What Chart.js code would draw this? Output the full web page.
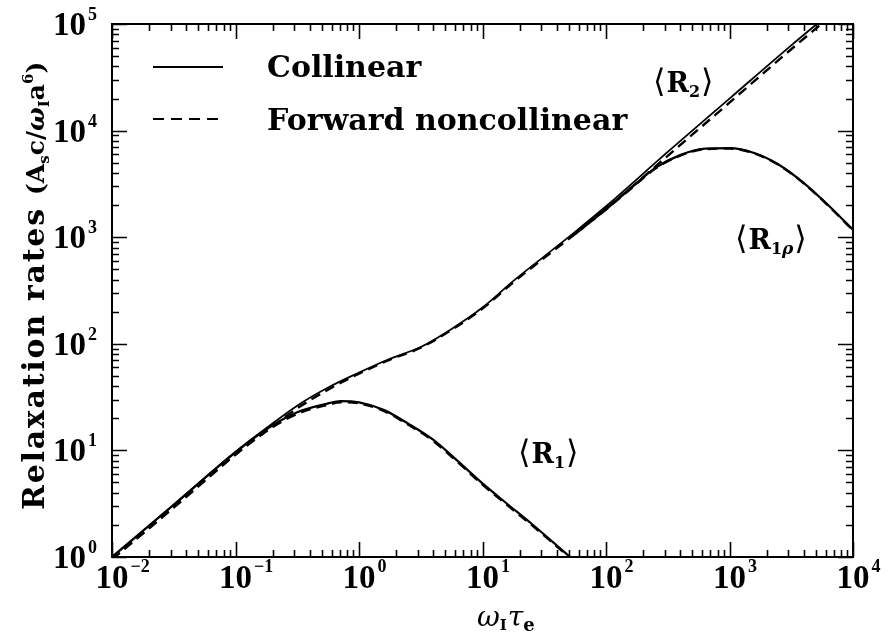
<!DOCTYPE html>
<html>
<head>
<meta charset="utf-8">
<script src="https://cdn.jsdelivr.net/npm/chart.js@4"></script>
<style>
  body { margin: 0; background: #fff; }
  #wrap { width: 888px; height: 636px; position: relative; }
</style>
</head>
<body>
<div id="wrap"><canvas id="myChart"></canvas></div>
<script>
// tick decades (exponents of 10)
const xExps = [-2, -1, 0, 1, 2, 3, 4];
const yExps = [0, 1, 2, 3, 4, 5];

// <R2> (upper branch)
const xUpper = [0.01, 0.0316, 0.1, 0.178, 0.316, 0.562, 1, 1.78, 3.16, 5.62, 10, 17.8, 31.6, 56.2, 100, 316, 1000, 3162, 6000];
const r2Col = [1, 3.09, 9.7, 16.2, 26.3, 38.9, 53.7, 72.4, 93.3, 138, 219, 389, 661, 1122, 1950, 6310, 19950, 63100, 117000];
const r2Fwd = [0.95, 2.9, 9.1, 15.2, 24.8, 37.2, 52.5, 71, 92, 135, 214, 378, 640, 1070, 1830, 5800, 18300, 58000, 108000];

// <R1>
const xR1 = [0.01, 0.0316, 0.1, 0.178, 0.316, 0.562, 0.708, 1, 1.58, 2.51, 3.98, 6.31, 10, 15.8, 25.1, 39.8, 55];
const r1Col = [1, 3.09, 9.6, 15.8, 22.8, 27.6, 29.0, 28.2, 24.0, 17.8, 12.6, 7.94, 4.9, 3.16, 2.04, 1.29, 0.93];
const r1Fwd = [0.96, 2.95, 9.2, 15.2, 22.0, 26.8, 28.3, 27.6, 23.5, 17.4, 12.3, 7.75, 4.78, 3.08, 1.99, 1.26, 0.91];

// <R1rho>
const xR1rho = [56.2, 100, 158, 251, 398, 631, 1000, 1585, 2512, 3981, 6310, 10000];
const r1rhoCol = [1096, 1862, 2884, 4467, 5888, 6761, 6839, 6166, 4786, 3236, 1995, 1175];
const r1rhoFwd = [1070, 1820, 2830, 4400, 5820, 6700, 6790, 6120, 4750, 3210, 1975, 1160];

const pts = (xs, ys) => xs.map((x, i) => ({ x: x, y: ys[i] }));
const solid = (xs, ys, w) => ({ data: pts(xs, ys), borderColor: '#000', borderWidth: w, pointRadius: 0, cubicInterpolationMode: 'monotone', clip: 0 });
const dashed = (xs, ys) => ({ data: pts(xs, ys), borderColor: '#000', borderWidth: 2.4, borderDash: [10, 6], pointRadius: 0, cubicInterpolationMode: 'monotone', clip: 0 });

const SERIF = '"DejaVu Serif", serif';
const NUM = '"Liberation Serif", serif';

// parts: [text, font, dy, letter spacing]
function drawRun(ctx, parts, x, y) {
  let cx = x;
  parts.forEach(([t, f, dy, sp]) => {
    ctx.font = f;
    for (const ch of t) {
      ctx.fillText(ch, cx, y + (dy || 0));
      cx += ctx.measureText(ch).width + (sp || 0);
    }
  });
  return cx;
}

function bracketLabel(ctx, x, base, sub) {
  ctx.font = '32px "DejaVu Sans", sans-serif';
  ctx.fillText('\u27E8', x, base);
  let cx = x + ctx.measureText('\u27E8').width + 1;
  ctx.font = 'bold 27px ' + SERIF;
  ctx.fillText('R', cx, base);
  cx += ctx.measureText('R').width;
  sub.forEach(([t, f]) => {
    ctx.font = f;
    ctx.fillText(t, cx, base + 5);
    cx += ctx.measureText(t).width;
  });
  ctx.font = '32px "DejaVu Sans", sans-serif';
  ctx.fillText('\u27E9', cx + 1, base);
}

const decor = {
  id: 'decor',
  afterDraw(chart) {
    const { ctx, chartArea: a, scales: { x, y } } = chart;
    ctx.save();
    ctx.fillStyle = '#000';
    ctx.strokeStyle = '#000';

    // frame
    ctx.lineWidth = 2;
    ctx.strokeRect(a.left, a.top, a.right - a.left, a.bottom - a.top);

    // inward ticks on all four sides
    ctx.lineWidth = 1.6;
    ctx.beginPath();
    xExps.forEach((e, i) => {
      for (let m = 1; m < 10; m++) {
        if (m > 1 && i === xExps.length - 1) break;
        const px = Math.round(x.getPixelForValue(m * Math.pow(10, e))) + 0.5;
        const len = m === 1 ? 15 : 7;
        ctx.moveTo(px, a.bottom); ctx.lineTo(px, a.bottom - len);
        ctx.moveTo(px, a.top); ctx.lineTo(px, a.top + len);
      }
    });
    yExps.forEach((e, i) => {
      for (let m = 1; m < 10; m++) {
        if (m > 1 && i === yExps.length - 1) break;
        const py = Math.round(y.getPixelForValue(m * Math.pow(10, e))) + 0.5;
        const len = m === 1 ? 15 : 7;
        ctx.moveTo(a.left, py); ctx.lineTo(a.left + len, py);
        ctx.moveTo(a.right, py); ctx.lineTo(a.right - len, py);
      }
    });
    ctx.stroke();

    // tick labels
    const big = 'bold 33px ' + NUM, small = 'bold 18px ' + NUM;
    const expText = e => (e < 0 ? '\u2212' + (-e) : String(e));
    ctx.textBaseline = 'alphabetic';
    xExps.forEach(e => {
      const px = x.getPixelForValue(Math.pow(10, e));
      ctx.font = big;
      const w = ctx.measureText('10').width;
      ctx.textAlign = 'left';
      ctx.fillText('10', px - w / 2, a.bottom + 31);
      ctx.font = small;
      ctx.fillText(expText(e), px + w / 2 + 2, a.bottom + 15);
    });
    yExps.forEach(e => {
      const py = y.getPixelForValue(Math.pow(10, e));
      ctx.font = big;
      ctx.textAlign = 'right';
      ctx.fillText('10', a.left - 26, py + 11);
      ctx.font = small;
      ctx.textAlign = 'left';
      ctx.fillText(expText(e), a.left - 24, py - 4);
    });

    // x axis title
    ctx.textAlign = 'left';
    let cx = 477;
    ctx.font = 'italic 28px ' + SERIF; ctx.fillText('\u03C9', cx, 626); cx += ctx.measureText('\u03C9').width;
    ctx.font = 'bold 15px ' + SERIF; ctx.fillText('I', cx, 630); cx += ctx.measureText('I').width + 1;
    ctx.font = 'italic 28px ' + SERIF; ctx.fillText('\u03C4', cx, 626); cx += ctx.measureText('\u03C4').width;
    ctx.font = 'bold 18px ' + SERIF; ctx.fillText('e', cx, 631);

    // y axis title (rotated): main words stretched to reach the "(" at y~195
    const B = 'bold 30px ' + SERIF;
    const P = 'bold 25px ' + SERIF, S = 'bold 15px ' + SERIF;
    const main = 'Relaxation rates ';
    ctx.font = B;
    const mw = ctx.measureText(main).width;
    const msp = Math.max(0, (315 - mw) / [...main].length);
    const title = [
      [main, B, 0, msp],
      ['(A', P, 0], ['s', S, 5], ['c/', P, 0],
      ['\u03C9', 'bold italic 25px ' + SERIF, 0], ['I', S, 5], ['a', P, 0], ['6', S, -11], [')', P, 0]
    ];
    ctx.save();
    ctx.translate(44, 510);
    ctx.rotate(-Math.PI / 2);
    drawRun(ctx, title, 0, 0);
    ctx.restore();

    // legend
    ctx.lineWidth = 2;
    ctx.beginPath(); ctx.moveTo(153, 67); ctx.lineTo(223, 67); ctx.stroke();
    ctx.setLineDash([11, 7]);
    ctx.beginPath(); ctx.moveTo(153, 119); ctx.lineTo(223, 119); ctx.stroke();
    ctx.setLineDash([]);
    ctx.font = 'bold 30px ' + SERIF;
    ctx.fillText('Collinear', 267, 77);
    ctx.fillText('Forward noncollinear', 267, 130);

    // curve labels
    bracketLabel(ctx, 653, 92, [['2', 'bold 16px ' + SERIF]]);
    bracketLabel(ctx, 735, 249, [['1', 'bold 16px ' + SERIF], ['\u03C1', 'bold italic 17px ' + SERIF]]);
    bracketLabel(ctx, 518, 463, [['1', 'bold 16px ' + SERIF]]);

    ctx.restore();
  }
};

const ctx = document.getElementById('myChart').getContext('2d');
const myChart = new Chart(ctx, {
  type: 'line',
  data: {
    datasets: [
      solid(xUpper, r2Col, 1.8),
      dashed(xUpper, r2Fwd),
      solid(xR1, r1Col, 2.2),
      dashed(xR1, r1Fwd),
      solid(xR1rho, r1rhoCol, 2.2),
      dashed(xR1rho, r1rhoFwd)
    ]
  },
  options: {
    responsive: true,
    maintainAspectRatio: false,
    animation: false,
    layout: { padding: { left: 112, right: 35, top: 24, bottom: 79 } },
    plugins: { legend: { display: false }, tooltip: { enabled: false } },
    scales: {
      x: { type: 'logarithmic', min: 0.01, max: 10000, display: false },
      y: { type: 'logarithmic', min: 1, max: 100000, display: false }
    }
  },
  plugins: [decor]
});
</script>
</body>
</html>
